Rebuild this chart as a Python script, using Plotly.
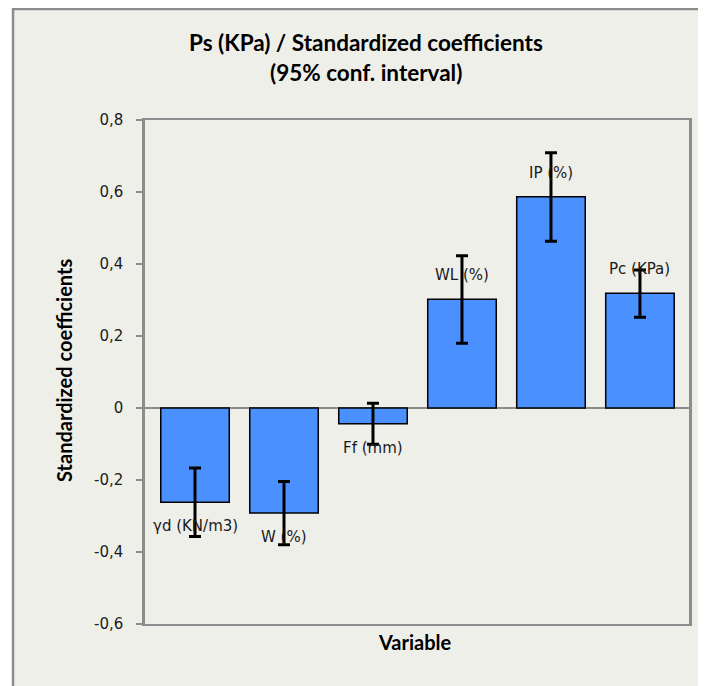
import plotly.graph_objects as go

categories = ["γd (KN/m3)", "W (%)", "Ff (mm)", "WL (%)", "IP (%)", "Pc (KPa)"]
coefficients = [-0.262, -0.292, -0.044, 0.302, 0.587, 0.319]
ci_upper = [-0.167, -0.204, 0.013, 0.423, 0.709, 0.383]
ci_lower = [-0.357, -0.380, -0.101, 0.180, 0.463, 0.252]
tick_values = [-0.6, -0.4, -0.2, 0, 0.2, 0.4, 0.6, 0.8]
tick_labels = ["-0,6", "-0,4", "-0,2", "0", "0,2", "0,4", "0,6", "0,8"]

BG = "#EFEFEA"
GRAY = "#8C8C8C"
BAR = "#4A90FF"

x_idx = list(range(len(categories)))
err_plus = [u - v for u, v in zip(ci_upper, coefficients)]
err_minus = [v - l for v, l in zip(coefficients, ci_lower)]

fig = go.Figure()
fig.add_trace(go.Bar(
    x=x_idx, y=coefficients, width=0.77,
    marker=dict(color=BAR, line=dict(color="black", width=1.5)),
    error_y=dict(type="data", symmetric=False, array=err_plus, arrayminus=err_minus,
                 color="black", thickness=3, width=6),
    showlegend=False, hoverinfo="skip",
))

annotations = []
for i, (c, v) in enumerate(zip(categories, coefficients)):
    annotations.append(dict(
        x=i, y=v, xref="x", yref="y", text=c, showarrow=False,
        xanchor="center", yanchor="middle",
        yshift=24 if v > 0 else -24,
        font=dict(family="DejaVu Sans", size=15, color="#1a1a1a"),
    ))

title_font = dict(family="Lato", size=22.5, color="black")
axis_font = dict(family="Lato", size=20, color="black")
annotations += [
    dict(x=0.406, y=1.153, xref="paper", yref="paper", showarrow=False,
         xanchor="center", yanchor="middle",
         text="<b>Ps (KPa) / Standardized coefficients</b>", font=title_font),
    dict(x=0.406, y=1.095, xref="paper", yref="paper", showarrow=False,
         xanchor="center", yanchor="middle",
         text="<b>(95% conf. interval)</b>", font=title_font),
    dict(x=-0.149, y=0.504, xref="paper", yref="paper", showarrow=False, textangle=-90,
         xanchor="center", yanchor="middle",
         text="<b>Standardized coefficients</b>", font=axis_font),
    dict(x=0.496, y=-0.036, xref="paper", yref="paper", showarrow=False,
         xanchor="center", yanchor="middle",
         text="<b>Variable</b>", font=axis_font),
]

fig.update_layout(
    width=698, height=678,
    margin=dict(l=137, r=17, t=112, b=62),
    paper_bgcolor="white",
    plot_bgcolor=BG,
    annotations=annotations,
    shapes=[dict(type="rect", xref="paper", yref="paper",
                 x0=-0.2426, x1=1.2, y0=-0.3, y1=1.2202,
                 fillcolor=BG, line=dict(color=GRAY, width=2.5), layer="below")],
    xaxis=dict(range=[-0.562, 5.551], showticklabels=False, ticks="",
               showline=True, mirror=True, linecolor=GRAY, linewidth=2,
               showgrid=False, zeroline=False, fixedrange=True),
    yaxis=dict(range=[-0.6, 0.8], tickvals=tick_values, ticktext=tick_labels,
               ticks="outside", ticklen=6, tickwidth=2, tickcolor=GRAY,
               ticklabelstandoff=10,
               tickfont=dict(family="DejaVu Sans", size=15, color="#1a1a1a"),
               showline=True, mirror=True, linecolor=GRAY, linewidth=2.5,
               showgrid=False, zeroline=True, zerolinecolor=GRAY, zerolinewidth=2,
               fixedrange=True),
    bargap=0.2,
)

fig.write_html("out.html")
